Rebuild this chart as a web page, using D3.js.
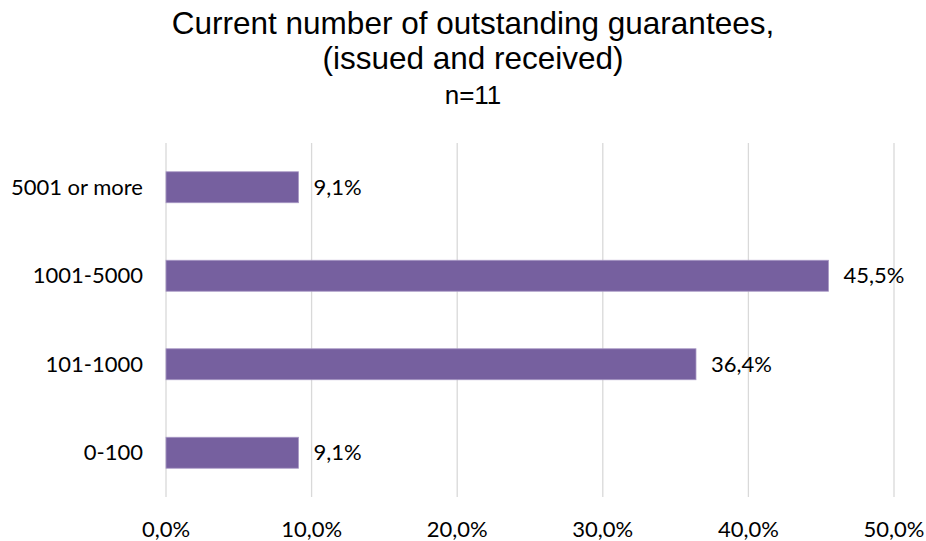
<!DOCTYPE html>
<html>
<head>
<meta charset="utf-8">
<script src="https://cdn.jsdelivr.net/npm/d3@7"></script>
<style>
  body { margin: 0; background: #fff; }
  svg { display: block; }
  .title { font-family: "Liberation Sans", Arial, sans-serif; fill: #000; }
  .lbl { font-family: Lato, "Open Sans", sans-serif; font-size: 22px; fill: #000; }
</style>
</head>
<body>
<svg id="chart" width="926" height="541"></svg>
<script>
// categories top to bottom, share of respondents (%)
const categories = ['5001 or more', '1001-5000', '101-1000', '0-100'];
const values = [9.1, 45.5, 36.4, 9.1];
const ticks = [0, 10, 20, 30, 40, 50];
const titleLines = ['Current number of outstanding guarantees,', '(issued and received)'];
const subtitle = 'n=11';

const svg = d3.select('#chart');
const plotL = 166, plotR = 894, plotT = 143, plotB = 497;

const x = d3.scaleLinear().domain([0, 50]).range([plotL, plotR]);
const y = d3.scaleBand().domain(categories).range([plotT, plotB]).paddingInner(0.65).paddingOuter(0.325);
const fmt = (v) => d3.format('.1f')(v).replace('.', ',') + '%';

// title
svg.selectAll('text.t').data(titleLines).enter().append('text')
  .attr('class', 'title t')
  .attr('x', 473).attr('y', (d, i) => 34 + i * 35)
  .attr('text-anchor', 'middle').attr('font-size', 31.5)
  .text((d) => d);
svg.append('text').attr('class', 'title')
  .attr('x', 473).attr('y', 104).attr('text-anchor', 'middle').attr('font-size', 26)
  .text(subtitle);

// gridlines
svg.append('g').selectAll('line').data(ticks).enter().append('line')
  .attr('x1', (d) => x(d)).attr('x2', (d) => x(d))
  .attr('y1', plotT).attr('y2', plotB)
  .attr('stroke', '#d9d9d9').attr('stroke-width', 1.3);

// bars
svg.append('g').selectAll('rect').data(values).enter().append('rect')
  .attr('x', x(0)).attr('y', (d, i) => y(categories[i]))
  .attr('width', (d) => x(d) - x(0)).attr('height', y.bandwidth())
  .attr('fill', '#76609f').attr('stroke', '#a898c4').attr('stroke-width', 0.8);

// value labels
svg.append('g').selectAll('text').data(values).enter().append('text')
  .attr('class', 'lbl')
  .attr('x', (d) => x(d) + 15).attr('y', (d, i) => y(categories[i]) + y.bandwidth() / 2)
  .attr('dy', '0.35em').text(fmt);

// category labels
svg.append('g').selectAll('text').data(categories).enter().append('text')
  .attr('class', 'lbl')
  .attr('x', 143).attr('y', (d) => y(d) + y.bandwidth() / 2)
  .attr('dy', '0.35em').attr('text-anchor', 'end').text((d) => d);

// x tick labels
svg.append('g').selectAll('text').data(ticks).enter().append('text')
  .attr('class', 'lbl')
  .attr('x', (d) => x(d)).attr('y', 529).attr('dy', '0.35em')
  .attr('text-anchor', 'middle').text(fmt);
</script>
</body>
</html>
